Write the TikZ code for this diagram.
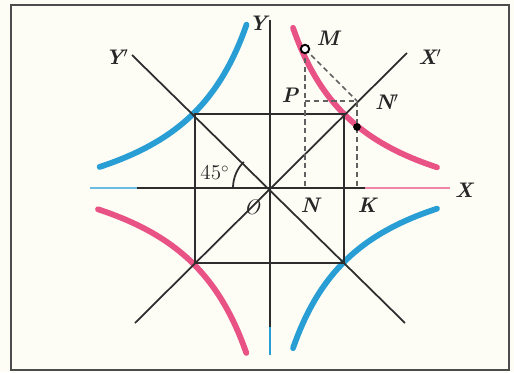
\documentclass[tikz,border=0pt]{standalone}
\usetikzlibrary{calc}

\begin{document}
\begin{tikzpicture}[
    x=0.02cm, y=0.02cm,
    axis/.style={draw=axisline,line width=1.1pt},
    sqline/.style={draw=axisline,line width=1pt},
    dashln/.style={draw=axisline!75,line width=0.9pt,dash pattern=on 3pt off 2pt},
    branch/.style={line width=3.3pt,line cap=round,smooth},
    lbl/.style={font=\large\bfseries\itshape,text=black!85,inner sep=1pt},
]
\definecolor{axisline}{RGB}{45,45,45}
\definecolor{hypred}{RGB}{232,82,132}
\definecolor{hypblue}{RGB}{40,158,212}
\definecolor{paper}{RGB}{253,253,246}

% page is 514x372 px, origin O sits at px (270,188), 1 unit = 1 px
\fill[paper] (-270,-184) rectangle (244,188);
\useasboundingbox (-270,-184) rectangle (244,188);
\draw[black!70,line width=1.1pt] (-259,-182) rectangle (239,183);

% ================= points =================
\coordinate (O) at (0,0);
\coordinate (Xl) at (-180,0);  \coordinate (Xr) at (180,0);
\coordinate (Yb) at (0,-167);  \coordinate (Yt) at (0,168);
\coordinate (Xa) at (-135,-135); \coordinate (Xb) at (137,135);
\coordinate (Ya) at (-138,133);  \coordinate (Yc) at (135,-135);
\coordinate (Q1) at (74,74);   \coordinate (Q2) at (-75,74);
\coordinate (Q3) at (-75,-75); \coordinate (Q4) at (74,-75);
\coordinate (M) at (35,139);   \coordinate (P) at (35,87);
\coordinate (Np) at (87,87);   \coordinate (N) at (35,0);
\coordinate (K) at (87,0);     \coordinate (D) at (87,61);
\coordinate (Xlt) at (-133,0); \coordinate (Xrt) at (95,0);
\coordinate (Ybt) at (0,-139);

% ================= hyperbola branches: (|x|+51)(|y|+51)=15625, scaled =================
\foreach \sx/\sy/\s/\col in {1/1/1/hypred, -1/1/1.02/hypblue, -1/-1/1.03/hypred, 1/-1/1/hypblue} {
  \draw[branch,\col] plot[domain=23:167,samples=40] ({\sx*\s*\x},{\sy*\s*(15625/(\x+51)-51)});
}

% ================= axes, rotated axes, square =================
\draw[axis] (Xl) -- (Xr);
\draw[axis] (Yb) -- (Yt);
\draw[hypblue!70,line width=1.1pt] (Xl) -- (Xlt);
\draw[hypred!70,line width=1.1pt] (Xrt) -- (Xr);
\draw[hypblue,line width=1.1pt] (Ybt) -- (Yb);
\draw[sqline] (Xa) -- (Xb);
\draw[sqline] (Ya) -- (Yc);
\draw[sqline] (Q1) -- (Q2) -- (Q3) -- (Q4) -- cycle;
\draw[sqline] ($(O)+(-0.74cm,0)$) arc[start angle=180,end angle=135,radius=0.74cm];

% ================= projections of M =================
\draw[dashln] (M) -- (N);
\draw[dashln] (M) -- (Np);
\draw[dashln] (P) -- (Np) -- (K);
\fill[black] (D) circle[radius=2.2pt];
\draw[black,fill=white,line width=1.1pt] (M) circle[radius=2.4pt];

% ================= labels =================
\node[lbl] (lY) at (-12,165) {Y};
\node[lbl] (lX) at (194,-2) {X};
\node[lbl] (lXp) at (160,131) {X$'$};
\node[lbl] (lYp) at (-153,131) {Y$'$};
\node[lbl] (lM) at (58,150) {M};
\node[lbl] (lP) at (20,93) {P};
\node[lbl] (lNp) at (117,86) {N$'$};
\node[lbl] (lN) at (40,-17) {N};
\node[lbl] (lK) at (97,-17) {K};
\node[lbl,font=\large\itshape] (lO) at (-18,-19) {O};
\node[font=\large,text=black!85] (lang) at (-55,15) {45$^\circ$};

\end{tikzpicture}
\end{document}
